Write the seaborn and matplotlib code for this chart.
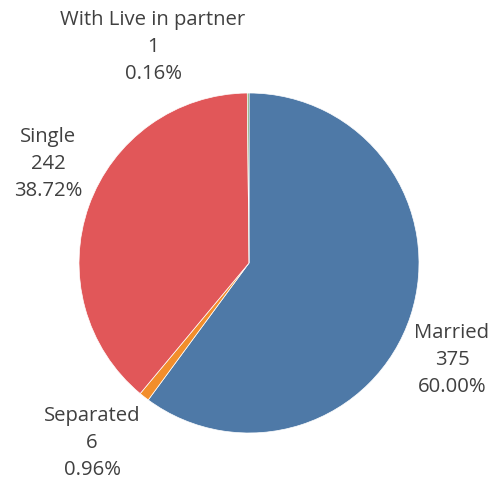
import matplotlib
matplotlib.use("Agg")
import matplotlib.pyplot as plt
import seaborn as sns

categories = ["Married", "Separated", "Single", "With Live in partner"]
counts = [375, 6, 242, 1]
total_records = 625  # percentages shown in the reference are of 625 records
colors = ["#4e79a7", "#f28e2b", "#e15759", "#6a9a5a"]

sns.set_theme(style="white")
plt.rcParams["font.family"] = ["Open Sans", "DejaVu Sans"]

W, H = 494, 487
fig = plt.figure(figsize=(W / 100, H / 100), dpi=100)
cx, cy, r = 249, 263, 170
ax = fig.add_axes([(cx - r) / W, (H - cy - r) / H, 2 * r / W, 2 * r / H])
ax.pie(counts, colors=colors, startangle=90, counterclock=False,
       wedgeprops=dict(linewidth=0.5, edgecolor="white"))
ax.set_xlim(-1, 1)
ax.set_ylim(-1, 1)
ax.axis("off")

label_pos = {
    "Married": (452, 360),
    "Separated": (92, 443),
    "Single": (48, 164),
    "With Live in partner": (153, 47),
}
for cat, n in zip(categories, counts):
    x, y = label_pos[cat]
    txt = f"{cat}\n{n}\n{n / total_records * 100:.2f}%"
    fig.text(x / W, 1 - y / H, txt, ha="center", va="center",
             fontsize=14.6, color="#404040", linespacing=1.45)

fig.savefig("out.png", dpi=100)
